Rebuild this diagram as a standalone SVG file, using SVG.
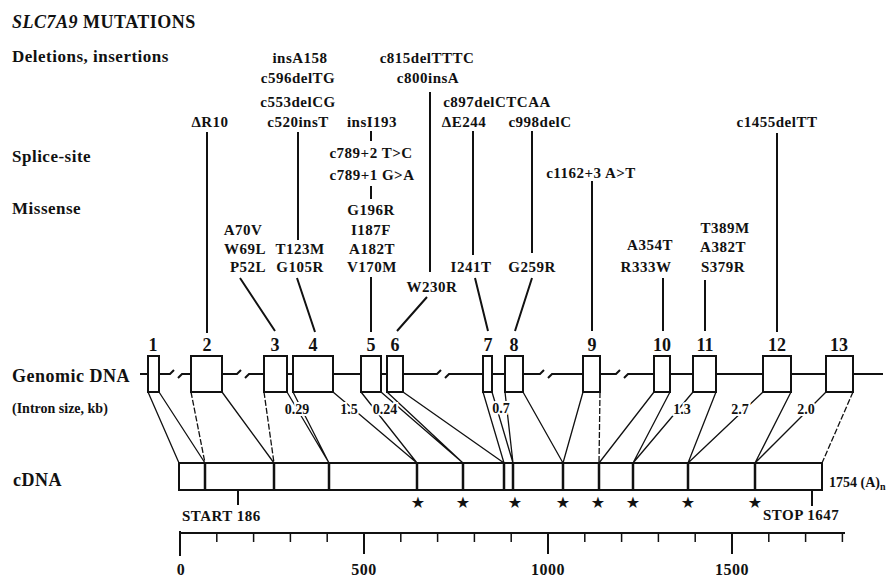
<svg xmlns="http://www.w3.org/2000/svg" width="893" height="578" viewBox="0 0 893 578">
<style>
.t{font-family:"Liberation Serif","Times New Roman",serif;font-weight:bold;font-size:15px;fill:#111;letter-spacing:0.5px}
.m{text-anchor:middle}
.num{font-size:18px;text-anchor:middle;letter-spacing:0}
.sz{font-size:14px;text-anchor:middle;paint-order:stroke;stroke:#fff;stroke-width:4px;letter-spacing:0}
.ln{stroke:#111;stroke-width:2;fill:none}
.cn{stroke:#111;stroke-width:1.3;fill:none}
.dash{stroke-dasharray:6 2}
.ex{fill:#fff;stroke:#111;stroke-width:2}
.star{font-family:"DejaVu Sans",sans-serif;font-size:16px;text-anchor:middle;fill:#111}
</style>
<rect width="893" height="578" fill="#fff"/>

<g id="titles" class="t">
<text x="12" y="28" font-size="18"><tspan font-style="italic">SLC7A9</tspan> MUTATIONS</text>
<text x="12" y="62" font-size="17">Deletions, insertions</text>
<text x="12" y="162" font-size="17">Splice-site</text>
<text x="12" y="214" font-size="17">Missense</text>
<text x="12" y="382" font-size="18">Genomic DNA</text>
<text x="12" y="413" style="font-size:14px;letter-spacing:0">(Intron size, kb)</text>
<text x="13" y="486" font-size="18">cDNA</text>
</g>

<g id="connectors">
<path class="ln" d="M140,374 H148 M159,374 H170 L174,370 M178,378 L182,374 H191 M222,374 H237 L241,370 M245,378 L249,374 H264 M287,374 H293 M333,374 H361 M381,374 H387 M403,374 H437 L441,370 M445,378 L449,374 H483 M492,374 H505 M523,374 H540 L544,370 M548,378 L552,374 H583 M600,374 H616 L620,370 M624,378 L628,374 H654 M670,374 H693 M716,374 H763 M791,374 H826 M853,374 H883"/>
<path class="ln" d="M207,132 V333 M298,132 V240 M240,278 L275,331 M297,278 L315,332 M371,131 V141 M371,186 V199 M371,277 V332 M427,297 L397,331 M473,131 V255 M475,278 L488,331 M532,131 V253 M532,278 L515,331 M592,181 V331 M663,278 V331 M705,280 V331 M777,133 V332"/>
<path class="ln" stroke-width="1.6" d="M430,92 V272"/>
<path class="cn" d="M148,392 L179,463 M159,392 L205,463 M222,392 L274,463 M287,392 L329,463 M293,392 L329,463 M333,392 L417,463 M361,392 L417,463 M381,392 L463,463 M387,392 L463,463 M403,392 L504,463 M483,392 L504,463 M492,392 L513,463 M505,392 L513,463 M523,392 L563,463 M583,392 L563,463 M654,392 L599,463 M670,392 L633,463 M693,392 L633,463 M716,392 L688,463 M763,392 L688,463 M791,392 L755,463 M826,392 L755,463"/>
<path class="cn dash" d="M191,392 L205,463 M264,392 L274,463 M600,392 L599,463 M853,392 L822,463"/>
</g>

<g id="genomic" class="t">
<g id="exon1"><rect class="ex" x="148" y="356" width="11" height="36"/><text class="num" x="153" y="351">1</text></g>
<g id="exon2"><rect class="ex" x="191" y="356" width="31" height="36"/><text class="num" x="207" y="351">2</text></g>
<g id="exon3"><rect class="ex" x="264" y="356" width="23" height="36"/><text class="num" x="275" y="351">3</text></g>
<g id="exon4"><rect class="ex" x="293" y="356" width="40" height="36"/><text class="num" x="313" y="351">4</text></g>
<g id="exon5"><rect class="ex" x="361" y="356" width="20" height="36"/><text class="num" x="371" y="351">5</text></g>
<g id="exon6"><rect class="ex" x="387" y="356" width="16" height="36"/><text class="num" x="395" y="351">6</text></g>
<g id="exon7"><rect class="ex" x="483" y="356" width="9" height="36"/><text class="num" x="488" y="351">7</text></g>
<g id="exon8"><rect class="ex" x="505" y="356" width="18" height="36"/><text class="num" x="514" y="351">8</text></g>
<g id="exon9"><rect class="ex" x="583" y="356" width="17" height="36"/><text class="num" x="592" y="351">9</text></g>
<g id="exon10"><rect class="ex" x="654" y="356" width="16" height="36"/><text class="num" x="662" y="351">10</text></g>
<g id="exon11"><rect class="ex" x="693" y="356" width="23" height="36"/><text class="num" x="705" y="351">11</text></g>
<g id="exon12"><rect class="ex" x="763" y="356" width="28" height="36"/><text class="num" x="777" y="351">12</text></g>
<g id="exon13"><rect class="ex" x="826" y="356" width="27" height="36"/><text class="num" x="839" y="351">13</text></g>
</g>

<g id="introns" class="t">
<text class="sz" x="297" y="414">0.29</text>
<text class="sz" x="349" y="414">1.5</text>
<text class="sz" x="385" y="414">0.24</text>
<text class="sz" x="501" y="413">0.7</text>
<text class="sz" x="682" y="414">1.3</text>
<text class="sz" x="740" y="414">2.7</text>
<text class="sz" x="806" y="414">2.0</text>
</g>

<g id="mutations" class="t m">
<text class="m" x="300" y="63">insA158</text>
<text class="m" x="427" y="63">c815delTTTC</text>
<text class="m" x="298" y="83">c596delTG</text>
<text class="m" x="428" y="83">c800insA</text>
<text class="m" x="298" y="107">c553delCG</text>
<text class="m" x="497" y="107">c897delCTCAA</text>
<text class="m" x="210" y="127">ΔR10</text>
<text class="m" x="298" y="127">c520insT</text>
<text class="m" x="372" y="127">insI193</text>
<text class="m" x="464" y="127">ΔE244</text>
<text class="m" x="540" y="127">c998delC</text>
<text class="m" x="777" y="127">c1455delTT</text>
<text class="m" x="371" y="158">c789+2 T&gt;C</text>
<text class="m" x="372" y="180">c789+1 G&gt;A</text>
<text class="m" x="591" y="178">c1162+3 A&gt;T</text>
<text class="m" x="371" y="215">G196R</text>
<text class="m" x="371" y="235">I187F</text>
<text class="m" x="372" y="254">A182T</text>
<text class="m" x="372" y="272">V170M</text>
<text class="m" x="243" y="235">A70V</text>
<text class="m" x="245" y="254">W69L</text>
<text class="m" x="248" y="272">P52L</text>
<text class="m" x="300" y="254">T123M</text>
<text class="m" x="300" y="272">G105R</text>
<text class="m" x="432" y="292">W230R</text>
<text class="m" x="471" y="272">I241T</text>
<text class="m" x="532" y="272">G259R</text>
<text class="m" x="650" y="250">A354T</text>
<text class="m" x="646" y="272">R333W</text>
<text class="m" x="725" y="233">T389M</text>
<text class="m" x="723" y="252">A382T</text>
<text class="m" x="723" y="272">S379R</text>
</g>

<g id="cdna">
<rect x="179" y="463" width="643" height="27" fill="#fff" stroke="#111" stroke-width="2"/>
<path stroke="#111" stroke-width="2.5" d="M205,463 V490 M274,463 V490 M329,463 V490 M417,463 V490 M463,463 V490 M504,463 V490 M513,463 V490 M563,463 V490 M599,463 V490 M633,463 V490 M688,463 V490 M755,463 V490"/>
<path class="ln" d="M238,490 V505 M812,490 V506"/>
<text class="t" x="182" y="521">START 186</text>
<text class="t" x="763" y="520">STOP 1647</text>
<text class="t" x="829" y="487" style="font-size:14px;letter-spacing:0">1754 (A)<tspan style="font-size:10px" dy="3">n</tspan></text>
<text class="star" x="418" y="508">★</text>
<text class="star" x="463" y="508">★</text>
<text class="star" x="515" y="508">★</text>
<text class="star" x="563" y="508">★</text>
<text class="star" x="598" y="508">★</text>
<text class="star" x="633" y="508">★</text>
<text class="star" x="688" y="508">★</text>
<text class="star" x="755" y="508">★</text>
</g>

<g id="axis">
<path class="ln" d="M180,533 H845"/>
<path stroke="#111" stroke-width="1.5" d="M216.8,533 V542 M253.6,533 V542 M290.4,533 V542 M327.2,533 V542 M400.8,533 V542 M437.6,533 V542 M474.4,533 V542 M511.2,533 V542 M584.8,533 V542 M621.6,533 V542 M658.4,533 V542 M695.2,533 V542 M768.8,533 V542 M805.6,533 V542 M842.4,533 V542"/>
<path stroke="#111" stroke-width="2" d="M180,531 V556 M364,533 V554 M548,533 V554 M732,533 V554"/>
<g class="t" style="font-size:16px">
<text class="m" x="181" y="575">0</text>
<text class="m" x="364" y="575">500</text>
<text class="m" x="548" y="575">1000</text>
<text class="m" x="732" y="575">1500</text>
</g>
</g>
</svg>
